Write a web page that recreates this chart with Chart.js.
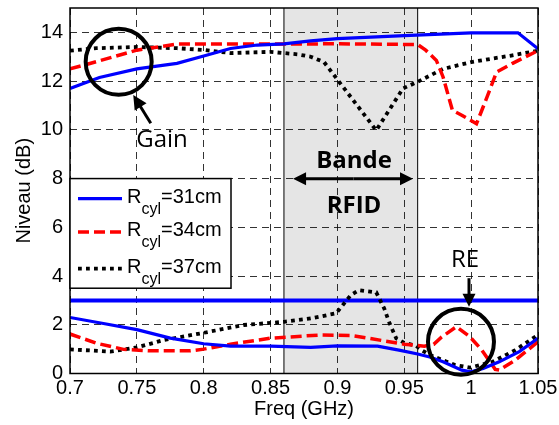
<!DOCTYPE html>
<html>
<head>
<meta charset="utf-8">
<script src="https://cdn.jsdelivr.net/npm/chart.js@4"></script>
<style>
  body { margin: 0; background: #fff; }
  canvas { display: block; }
</style>
</head>
<body>
<canvas id="grafica" width="559" height="425"></canvas>
<script>
//Données (Freq en GHz, niveaux en dB)
const freqGain31 = [0.70, 0.722, 0.75, 0.78, 0.80, 0.82, 0.84, 0.86, 0.88, 0.90, 0.95, 1.00, 1.035, 1.05];
const gain31 = [11.7, 12.15, 12.5, 12.73, 13.03, 13.34, 13.48, 13.53, 13.65, 13.74, 13.87, 13.98, 13.98, 13.33];

const freqGain34 = [0.70, 0.72, 0.75, 0.78, 0.80, 0.85, 0.90, 0.96, 0.966, 0.974, 0.979, 0.986, 0.993, 1.004, 1.012, 1.019, 1.031, 1.05];
const gain34 = [12.5, 12.8, 13.27, 13.52, 13.52, 13.52, 13.53, 13.5, 13.27, 12.85, 12.17, 10.8, 10.6, 10.25, 11.36, 12.37, 12.73, 13.25];

const freqGain37 = [0.70, 0.72, 0.75, 0.78, 0.80, 0.82, 0.85, 0.87, 0.88, 0.89, 0.929, 0.949, 0.96, 0.979, 1.00, 1.03, 1.05];
const gain37 = [13.25, 13.35, 13.4, 13.35, 13.28, 13.15, 13.2, 13.1, 13.0, 12.78, 9.98, 11.7, 11.97, 12.5, 12.78, 13.05, 13.25];

const freqRE31 = [0.70, 0.725, 0.75, 0.775, 0.80, 0.82, 0.85, 0.88, 0.90, 0.93, 0.947, 0.96, 0.969, 0.979, 0.993, 1.00, 1.009, 1.021, 1.036, 1.05];
const re31 = [2.3, 2.05, 1.8, 1.45, 1.22, 1.12, 1.12, 1.07, 1.13, 1.12, 0.95, 0.8, 0.68, 0.48, 0.14, 0.07, 0.21, 0.48, 0.9, 1.44];

const freqRE34 = [0.70, 0.72, 0.74, 0.76, 0.79, 0.80, 0.82, 0.85, 0.887, 0.91, 0.924, 0.95, 0.965, 0.972, 0.978, 0.989, 0.999, 1.008, 1.018, 1.021, 1.033, 1.05];
const re34 = [1.62, 1.24, 0.99, 0.93, 0.93, 1.0, 1.2, 1.45, 1.58, 1.56, 1.44, 1.2, 1.12, 1.2, 1.5, 1.92, 1.51, 0.96, 0.17, 0.14, 0.55, 1.3];

const freqRE37 = [0.70, 0.73, 0.75, 0.77, 0.80, 0.83, 0.86, 0.88, 0.899, 0.903, 0.910, 0.916, 0.929, 0.935, 0.939, 0.944, 0.950, 0.959, 0.963, 0.969, 0.988, 0.999, 1.016, 1.033, 1.05];
const re37 = [0.99, 0.9, 1.07, 1.37, 1.67, 1.99, 2.12, 2.26, 2.47, 2.74, 3.22, 3.42, 3.33, 2.67, 2.06, 1.44, 1.26, 1.13, 0.96, 0.76, 0.35, 0.24, 0.48, 0.96, 1.58];

//Seuil horizontal
const freqSeuil = [0.70, 1.05];
const seuil = [3, 3];

//Bande RFID
const bandeRFID = [0.86, 0.96];

//Graduations
const xTicks = [0.7, 0.75, 0.8, 0.85, 0.9, 0.95, 1, 1.05];
const yTicks = [0, 2, 4, 6, 8, 10, 12, 14];

const legendeRayons = ['=31cm', '=34cm', '=37cm'];

const BLEU = 'rgb(0,0,255)';
const ROUGE = 'rgb(255,0,0)';
const NOIR = 'rgb(0,0,0)';
const POLICE = '"Liberation Sans", Arial, sans-serif';
const styles = [
    { color: BLEU, width: 3.2, dash: [] },
    { color: ROUGE, width: 3.5, dash: [11, 5] },
    { color: NOIR, width: 3.8, dash: [3.8, 4.2] }
];

function points(xs, ys) {
    return xs.map((x, i) => ({ x: x, y: ys[i] }));
}

function serie(xs, ys, st) {
    return {
        data: points(xs, ys),
        borderColor: st.color,
        borderWidth: st.width,
        borderDash: st.dash,
        borderCapStyle: 'butt',
        pointRadius: 0,
        tension: 0,
        fill: false
    };
}

//Flèche avec pointe pleine au point (x2, y2)
function fleche(ctx, x1, y1, x2, y2, taille) {
    const ang = Math.atan2(y2 - y1, x2 - x1);
    ctx.beginPath();
    ctx.moveTo(x1, y1);
    ctx.lineTo(x2 - Math.cos(ang) * taille * 0.8, y2 - Math.sin(ang) * taille * 0.8);
    ctx.stroke();
    ctx.beginPath();
    ctx.moveTo(x2, y2);
    ctx.lineTo(x2 - taille * Math.cos(ang) + taille * 0.5 * Math.sin(ang), y2 - taille * Math.sin(ang) - taille * 0.5 * Math.cos(ang));
    ctx.lineTo(x2 - taille * Math.cos(ang) - taille * 0.5 * Math.sin(ang), y2 - taille * Math.sin(ang) + taille * 0.5 * Math.cos(ang));
    ctx.closePath();
    ctx.fill();
}

const fondPlugin = {
    id: 'fond',
    beforeDraw(chart) {
        const { ctx, chartArea: a, scales: { x } } = chart;
        ctx.save();
        ctx.fillStyle = '#fff';
        ctx.fillRect(0, 0, chart.width, chart.height);
        const x1 = x.getPixelForValue(bandeRFID[0]);
        const x2 = x.getPixelForValue(bandeRFID[1]);
        ctx.fillStyle = 'rgb(229,229,229)';
        ctx.fillRect(x1, a.top, x2 - x1, a.bottom - a.top);
        ctx.strokeStyle = NOIR;
        ctx.lineWidth = 1;
        ctx.beginPath();
        ctx.moveTo(x1, a.top); ctx.lineTo(x1, a.bottom);
        ctx.moveTo(x2, a.top); ctx.lineTo(x2, a.bottom);
        ctx.stroke();
        ctx.restore();
    }
};

const decorPlugin = {
    id: 'decor',
    afterDraw(chart) {
        const { ctx, chartArea: a, scales: { x, y } } = chart;
        const px = v => x.getPixelForValue(v);
        const py = v => y.getPixelForValue(v);
        ctx.save();

        //Cadre
        ctx.setLineDash([]);
        ctx.strokeStyle = NOIR;
        ctx.lineWidth = 1.5;
        ctx.strokeRect(a.left, a.top, a.right - a.left, a.bottom - a.top);

        //Titres des axes
        ctx.fillStyle = NOIR;
        ctx.font = '20px ' + POLICE;
        ctx.textAlign = 'center';
        ctx.textBaseline = 'middle';
        ctx.fillText('Freq (GHz)', (a.left + a.right) / 2, 409);
        ctx.save();
        ctx.translate(24, (a.top + a.bottom) / 2);
        ctx.rotate(-Math.PI / 2);
        ctx.fillText('Niveau (dB)', 0, 0);
        ctx.restore();

        //Légende
        const lx = a.left, ly = py(8), lw = 161, lh = py(3.5) - py(8);
        ctx.fillStyle = '#fff';
        ctx.fillRect(lx, ly, lw, lh);
        ctx.lineWidth = 1.5;
        ctx.strokeRect(lx, ly, lw, lh);
        const rangs = [20, 53.5, 90];
        styles.forEach((st, i) => {
            const yy = ly + rangs[i];
            ctx.strokeStyle = st.color;
            ctx.lineWidth = st.width;
            ctx.setLineDash(st.dash);
            ctx.lineCap = 'butt';
            ctx.beginPath();
            ctx.moveTo(lx + 8, yy);
            ctx.lineTo(lx + 52, yy);
            ctx.stroke();
            ctx.setLineDash([]);
            ctx.fillStyle = NOIR;
            ctx.textAlign = 'left';
            ctx.textBaseline = 'alphabetic';
            ctx.font = '20px ' + POLICE;
            let tx = lx + 57;
            ctx.fillText('R', tx, yy + 4);
            tx += ctx.measureText('R').width;
            ctx.font = '16px ' + POLICE;
            ctx.fillText('cyl', tx, yy + 15);
            tx += ctx.measureText('cyl').width;
            ctx.font = '20px ' + POLICE;
            ctx.fillText(legendeRayons[i], tx, yy + 4);
        });

        //Annotations
        ctx.strokeStyle = NOIR;
        ctx.fillStyle = NOIR;
        ctx.lineWidth = 4;
        ctx.beginPath();
        ctx.arc(px(0.7364), py(12.79), 33, 0, 2 * Math.PI);
        ctx.stroke();
        ctx.beginPath();
        ctx.arc(px(0.9924), py(1.3), 33, 0, 2 * Math.PI);
        ctx.stroke();

        ctx.lineWidth = 3;
        fleche(ctx, px(0.7604), py(10.27), px(0.7473), py(11.43), 14);
        fleche(ctx, px(0.9984), py(3.91), px(0.9984), py(2.74), 13);
        fleche(ctx, px(0.912), py(7.99), px(0.8668), py(7.99), 13);
        fleche(ctx, px(0.912), py(7.99), px(0.9565), py(7.99), 13);

        ctx.textAlign = 'center';
        ctx.textBaseline = 'alphabetic';
        ctx.font = '24px "Open Sans", Lato, sans-serif';
        ctx.fillText('Gain', px(0.7688), py(9.29));
        ctx.fillText('RE', px(0.9954), py(4.37));
        ctx.font = 'bold 24px "Open Sans", Lato, sans-serif';
        ctx.fillText('Bande', px(0.9124), py(8.42));
        ctx.fillText('RFID', px(0.9124), py(6.59));

        ctx.restore();
    }
};

function createNiveauChart() {
    const ctx = document.getElementById('grafica').getContext('2d');
    new Chart(ctx, {
        type: 'line',
        data: {
            datasets: [
                serie(freqGain31, gain31, styles[0]),
                serie(freqGain34, gain34, styles[1]),
                serie(freqGain37, gain37, styles[2]),
                serie(freqRE31, re31, styles[0]),
                serie(freqRE34, re34, styles[1]),
                serie(freqRE37, re37, styles[2]),
                serie(freqSeuil, seuil, { color: BLEU, width: 4, dash: [] })
            ]
        },
        options: {
            responsive: false,
            animation: false,
            layout: { padding: { top: 8, right: 21, left: 0, bottom: 0 } },
            plugins: {
                legend: { display: false },
                tooltip: { enabled: false }
            },
            scales: {
                x: {
                    type: 'linear',
                    min: 0.7,
                    max: 1.05,
                    afterBuildTicks: s => { s.ticks = xTicks.map(v => ({ value: v })); },
                    afterFit: s => { s.height = 51.5; s.paddingLeft = 0; s.paddingRight = 0; },
                    grid: { color: 'rgba(0,0,0,0.8)', lineWidth: 1, drawTicks: false },
                    border: { display: false, dash: [7, 5] },
                    ticks: {
                        color: NOIR,
                        padding: 3,
                        maxRotation: 0,
                        font: { family: POLICE, size: 20 },
                        callback: v => String(v)
                    }
                },
                y: {
                    min: 0,
                    max: 15,
                    afterBuildTicks: s => { s.ticks = yTicks.map(v => ({ value: v })); },
                    afterFit: s => { s.width = 70; s.paddingTop = 0; s.paddingBottom = 0; },
                    grid: { color: 'rgba(0,0,0,0.8)', lineWidth: 1, drawTicks: false },
                    border: { display: false, dash: [7, 5] },
                    ticks: {
                        color: NOIR,
                        padding: 7,
                        font: { family: POLICE, size: 20 },
                        callback: v => String(v)
                    }
                }
            }
        },
        plugins: [fondPlugin, decorPlugin]
    });
}

document.addEventListener('DOMContentLoaded', createNiveauChart);
</script>
</body>
</html>
